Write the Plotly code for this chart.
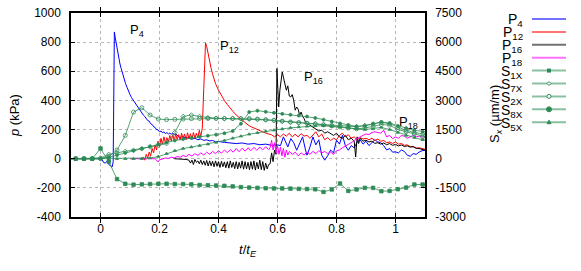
"""Pressure and strain histories, t/t_E on x."""
import plotly.graph_objects as go

FONT = "Liberation Sans, Arial, sans-serif"
GREEN = "#2e8b57"

# pressure gauges (kPa)
P4_T = [-0.1, 0.0, 0.006, 0.01, 0.016, 0.022, 0.028, 0.034, 0.04, 0.043, 0.045, 0.047, 0.05, 0.054,
        0.058, 0.062, 0.066, 0.07, 0.075, 0.08, 0.085, 0.09, 0.095, 0.1, 0.105, 0.11, 0.115, 0.12,
        0.125, 0.13, 0.135, 0.14, 0.145, 0.15, 0.155, 0.16, 0.165, 0.17, 0.175, 0.18, 0.185, 0.19,
        0.195, 0.2, 0.205, 0.21, 0.215, 0.22, 0.225, 0.23, 0.235, 0.24, 0.245, 0.25, 0.255, 0.26,
        0.265, 0.27, 0.28, 0.29, 0.3, 0.31, 0.32, 0.33, 0.34, 0.35, 0.36, 0.37, 0.38, 0.39, 0.4,
        0.42, 0.44, 0.46, 0.48, 0.5, 0.52, 0.54, 0.56, 0.58, 0.6, 0.61, 0.62, 0.63, 0.635, 0.645,
        0.655, 0.665, 0.675, 0.685, 0.695, 0.7, 0.71, 0.72, 0.73, 0.74, 0.75, 0.76, 0.77, 0.78,
        0.79, 0.8, 0.81, 0.82, 0.83, 0.84, 0.85, 0.86, 0.87, 0.88, 0.89, 0.9, 0.91, 0.92, 0.93,
        0.94, 0.95, 0.96, 0.97, 0.98, 0.99, 1.0, 1.01, 1.02, 1.03, 1.04, 1.05, 1.06, 1.07, 1.08,
        1.09, 1.1]
P4_P = [0, 0, -8, -25, -30, -18, -40, -48, -55, -20, 450, 870, 830, 780,
        735, 700, 650, 620, 580, 545, 515, 490, 460, 440, 420, 405, 385, 370,
        355, 345, 330, 318, 300, 290, 278, 262, 258, 240, 235, 220, 215, 200,
        198, 185, 190, 178, 184, 172, 180, 170, 176, 168, 175, 165, 172, 160,
        150, 146, 152, 140, 145, 135, 140, 130, 136, 126, 130, 122, 125, 116, 118,
        112, 110, 104, 108, 100, 104, 96, 100, 92, 95, 90, 150, 110, 81, 138,
        110, 58, 104, 150, 60, 24, 80, 150, 95, 130, 24, -10, 20, 60,
        40, 127, 100, 161, 90, 58, 90, 75, 115, 130, 100, 120, 90, 110, 130,
        115, 110, 90, 60, 70, 45, 47, 40, 60, 50, 24, 17, 35, 30, 45,
        55, 58]

P12_T = [0.14, 0.145, 0.15, 0.155, 0.16, 0.165, 0.17, 0.175, 0.18, 0.185, 0.19, 0.195, 0.2, 0.205,
         0.21, 0.215, 0.22, 0.225, 0.23, 0.235, 0.24, 0.245, 0.25, 0.255, 0.26, 0.265, 0.27, 0.275,
         0.28, 0.285, 0.29, 0.295, 0.3, 0.305, 0.31, 0.315, 0.32, 0.325, 0.33, 0.335, 0.34, 0.345,
         0.35, 0.356, 0.36, 0.365, 0.37, 0.375, 0.38, 0.39, 0.4, 0.41, 0.42, 0.43, 0.44, 0.45, 0.46,
         0.47, 0.48, 0.49, 0.5, 0.51, 0.52, 0.53, 0.54, 0.55, 0.56, 0.57, 0.58, 0.59, 0.6, 0.61,
         0.62, 0.63, 0.64, 0.65, 0.66, 0.67, 0.68, 0.69, 0.7, 0.71, 0.72, 0.73, 0.74, 0.75, 0.76,
         0.77, 0.78, 0.79, 0.8, 0.81, 0.82, 0.83, 0.84, 0.85, 0.86, 0.87, 0.88, 0.89, 0.9, 0.91,
         0.92, 0.93, 0.94, 0.95, 0.96, 0.97, 0.98, 0.99, 1.0, 1.01, 1.02, 1.03, 1.04, 1.05, 1.06,
         1.07, 1.08, 1.09, 1.1]
P12_P = [0, 10, -10, 30, 5, 45, 20, 70, 40, 95, 60, 120, 80, 140,
         100, 150, 110, 145, 115, 160, 120, 165, 125, 170, 130, 165, 128, 175,
         135, 170, 130, 178, 138, 172, 135, 180, 140, 175, 145, 195, 150, 210,
         480, 795, 770, 710, 660, 620, 580, 515, 470, 430, 400, 372, 345, 322, 300,
         282, 262, 246, 232, 220, 210, 200, 192, 184, 176, 170, 164, 150, 165, 150,
         170, 155, 175, 150, 168, 150, 172, 155, 160, 140, 165, 185, 150, 170, 130,
         145, 125, 140, 130, 160, 175, 150, 165, 140, 150, 130, 145, 135, 140, 130,
         140, 125, 135, 120, 125, 110, 115, 105, 115, 100, 104, 92, 95, 82, 85,
         72, 75, 68, 65]

P16_T = [0.25, 0.28, 0.29, 0.3, 0.305, 0.31, 0.315, 0.32, 0.325, 0.33, 0.335, 0.34, 0.345, 0.35,
         0.355, 0.36, 0.365, 0.37, 0.375, 0.38, 0.385, 0.39, 0.395, 0.4, 0.405, 0.41, 0.415, 0.42,
         0.425, 0.43, 0.435, 0.44, 0.445, 0.45, 0.455, 0.46, 0.465, 0.47, 0.475, 0.48, 0.485, 0.49,
         0.495, 0.5, 0.505, 0.51, 0.515, 0.52, 0.525, 0.53, 0.535, 0.54, 0.545, 0.55, 0.555, 0.56,
         0.565, 0.57, 0.575, 0.58, 0.585, 0.59, 0.595, 0.598, 0.601, 0.604, 0.608, 0.612, 0.616,
         0.62, 0.625, 0.63, 0.635, 0.64, 0.645, 0.65, 0.655, 0.66, 0.665, 0.67, 0.675, 0.68, 0.685,
         0.69, 0.695, 0.7, 0.71, 0.72, 0.73, 0.74, 0.75, 0.76, 0.77, 0.78, 0.79, 0.8, 0.81, 0.82,
         0.83, 0.84, 0.85, 0.86, 0.865, 0.87, 0.875, 0.88, 0.89, 0.9, 0.91, 0.92, 0.93, 0.94, 0.95,
         0.96, 0.97, 0.98, 0.99, 1.0, 1.01, 1.02, 1.03, 1.04, 1.05, 1.06, 1.07, 1.08, 1.09, 1.1]
P16_P = [0, 0, -5, -10, -30, -10, -40, -5, -25, -15, -35, -10, -40, -15,
         -45, -12, -50, -15, -48, -18, -55, -15, -52, -20, -60, -18, -55, -22,
         -62, -20, -65, -15, -60, -25, -68, -20, -70, -25, -65, -15, -72, -20,
         -70, -25, -75, -20, -72, -15, -78, -25, -70, -10, -75, -20, -80, -30,
         -70, -40, -35, 40, -20, 60, 30, 619, 400, 355, 470, 560, 595,
         560, 516, 470, 500, 430, 424, 440, 400, 333, 355, 340, 298, 320, 290,
         276, 250, 240, 230, 215, 200, 190, 196, 175, 185, 170, 160, 175, 150, 140,
         160, 130, 140, 120, 12, 150, 104, 140, 120, 127, 115, 120, 105, 110, 100,
         108, 96, 104, 92, 98, 88, 94, 84, 88, 80, 82, 72, 70, 62, 58]

P18_T = [0.1, 0.12, 0.14, 0.16, 0.18, 0.185, 0.19, 0.195, 0.2, 0.21, 0.22, 0.23, 0.24, 0.25,
         0.26, 0.27, 0.28, 0.29, 0.3, 0.31, 0.32, 0.33, 0.34, 0.35, 0.36, 0.37, 0.38, 0.39, 0.4,
         0.41, 0.42, 0.43, 0.44, 0.45, 0.46, 0.47, 0.48, 0.49, 0.5, 0.51, 0.52, 0.53, 0.54, 0.55,
         0.56, 0.57, 0.575, 0.58, 0.585, 0.59, 0.595, 0.6, 0.605, 0.61, 0.615, 0.62, 0.625, 0.63,
         0.635, 0.64, 0.65, 0.66, 0.67, 0.68, 0.69, 0.7, 0.71, 0.72, 0.73, 0.74, 0.75, 0.76, 0.77,
         0.78, 0.79, 0.8, 0.81, 0.82, 0.83, 0.84, 0.85, 0.86, 0.87, 0.88, 0.89, 0.9, 0.91, 0.92,
         0.93, 0.94, 0.95, 0.96, 0.97, 0.98, 0.99, 1.0, 1.01, 1.02, 1.03, 1.04, 1.05, 1.06, 1.07,
         1.08, 1.09, 1.1]
P18_P = [0, 0, -5, -5, -3, 0, -10, -22, -8, 0, 5, 2, 10, 6,
         15, 10, 22, 14, 30, 18, 35, 22, 40, 25, 45, 30, 50, 35, 55,
         38, 60, 42, 62, 45, 70, 48, 72, 52, 75, 55, 78, 58, 80, 60,
         82, 62, 75, 127, 60, 110, 40, 90, 30, 80, 20, 70, 10, 60,
         25, 50, 30, 45, 20, 40, 25, 45, 30, 50, 35, 55, 40, 50, 35,
         45, 30, 55, 60, 75, 85, 100, 110, 125, 140, 150, 160, 170, 165, 180,
         185, 178, 175, 196, 150, 160, 138, 150, 140, 160, 155, 140, 150, 160, 150,
         155, 148, 150]

# strain gauges (um/m), sampled at the marker times
S_T = [-0.112, -0.084, -0.056, -0.028, 0.0, 0.028, 0.056, 0.084, 0.112, 0.14, 0.168, 0.196,
       0.224, 0.252, 0.28, 0.308, 0.336, 0.364, 0.392, 0.42, 0.448, 0.476, 0.504, 0.532, 0.56,
       0.588, 0.616, 0.644, 0.672, 0.7, 0.728, 0.756, 0.784, 0.812, 0.84, 0.868, 0.896, 0.924,
       0.952, 0.98, 1.008, 1.036, 1.064, 1.092, 1.12]
S1X = [0, 0, 0, 0, 525, -150, -1050, -1290, -1335, -1320, -1305, -1290, -1290, -1305, -1305,
       -1320, -1350, -1365, -1380, -1395, -1425, -1462, -1485, -1500, -1522, -1530, -1530, -1538,
       -1552, -1560, -1575, -1710, -1582, -1275, -1658, -1582, -1500, -1500, -1672, -1658, -1568,
       -1485, -1328, -1328, -1328]
S7X = [0, 0, 0, 0, 38, 225, 300, 375, 435, 510, 600, 690, 780, 1350, 2175, 2250, 2175, 2115,
       2085, 2070, 2062, 2055, 2040, 2025, 1995, 1965, 1920, 1875, 1845, 1815, 1785, 1755, 1725,
       1695, 1665, 1650, 1710, 1785, 1875, 1800, 1612, 1462, 1350, 1275, 1200]
S2X = [0, 0, 0, 0, 0, 112, 450, 1200, 2400, 2625, 2250, 2040, 2010, 2025, 2040, 2062, 2070,
       2070, 2070, 2070, 2070, 2070, 2062, 2040, 2010, 1980, 1935, 1890, 1860, 1830, 1800, 1740,
       1688, 1635, 1575, 1538, 1575, 1650, 1762, 1725, 1500, 1388, 1275, 1125, 1050]
S8X = [0, 0, 0, 0, 0, 75, 188, 300, 412, 525, 638, 750, 840, 938, 1012, 1065, 1125, 1185, 1238,
       1312, 1425, 1800, 2400, 2475, 2415, 2362, 2310, 2265, 2220, 2175, 2100, 2010, 1912, 1815,
       1740, 1665, 1688, 1800, 1890, 1838, 1688, 1575, 1462, 1388, 1350]
S5X = [0, 0, 0, 0, 0, 0, 0, 0, 0, 0, 38, 112, 262, 412, 525, 600, 675, 750, 840, 938, 1050,
       1162, 1260, 1335, 1410, 1470, 1530, 1590, 1635, 1665, 1688, 1695, 1665, 1635, 1590, 1538,
       1500, 1538, 1612, 1500, 1350, 1200, 1088, 975, 938]

P_SERIES = [
    ("P<sub>4</sub>", P4_T, P4_P, "#0000ff"),
    ("P<sub>12</sub>", P12_T, P12_P, "#ff0000"),
    ("P<sub>16</sub>", P16_T, P16_P, "#000000"),
    ("P<sub>18</sub>", P18_T, P18_P, "#ff00ff"),
]
S_SERIES = [
    ("S<sub>1X</sub>", S1X, "square", 3.5),
    ("S<sub>7X</sub>", S7X, "diamond-open", 3.5),
    ("S<sub>2X</sub>", S2X, "circle-open", 4),
    ("S<sub>8X</sub>", S8X, "circle", 3),
    ("S<sub>5X</sub>", S5X, "triangle-up", 3),
]

P_TICKS = [-400, -200, 0, 200, 400, 600, 800, 1000]
S_TICKS = [-3000, -1500, 0, 1500, 3000, 4500, 6000, 7500]
T_TICKS = [0, 0.2, 0.4, 0.6, 0.8, 1]
T_TEXT = ["0", "0.2", "0.4", "0.6", "0.8", "1"]

fig = go.Figure()
for name, t, p, color in P_SERIES:
    fig.add_trace(go.Scatter(x=t, y=p, mode="lines", name=name,
                             line=dict(color=color, width=1)))
for name, s, symbol, size in S_SERIES:
    fig.add_trace(go.Scatter(x=S_T, y=s, mode="lines+markers", name=name, yaxis="y2",
                             line=dict(color=GREEN, width=0.8),
                             marker=dict(symbol=symbol, size=size, color=GREEN,
                                         line=dict(color=GREEN, width=0.8))))

# gauge labels next to the peaks
for text, x, y in [("P<sub>4</sub>", 0.092, 880), ("P<sub>12</sub>", 0.398, 770),
                   ("P<sub>16</sub>", 0.683, 560), ("P<sub>18</sub>", 1.005, 250)]:
    fig.add_annotation(x=x, y=y, text=text, showarrow=False, xanchor="left",
                       font=dict(size=13))

# gnuplot-style key: right-aligned text, sample line to the right
# (positions are measured in screen pixels; the plot area spans x 71..425, y 13..217)
PX, PY = 1 / 354, 1 / 204
key_rows = [(n, c, None) for n, _, _, c in P_SERIES] + [(n, GREEN, sym) for n, _, sym, _ in S_SERIES]
for i, (name, color, sym) in enumerate(key_rows):
    yp = (217 - (19 + 12.9 * i)) * PY
    fig.add_annotation(x=(525 - 71) * PX, y=yp - 1.5 * PY, xref="paper", yref="paper",
                       text=name, showarrow=False, xanchor="right", yanchor="middle",
                       font=dict(size=14))
    fig.add_shape(type="line", xref="paper", yref="paper", x0=(532 - 71) * PX,
                  x1=(566 - 71) * PX, y0=yp, y1=yp, line=dict(color=color, width=2),
                  opacity=0.55)
    cx = (549 - 71) * PX
    if sym == "square":
        fig.add_shape(type="rect", xref="paper", yref="paper", x0=cx - 2 * PX,
                      x1=cx + 2 * PX, y0=yp - 2 * PY, y1=yp + 2 * PY,
                      fillcolor=color, line=dict(width=0))
    elif sym in ("circle", "circle-open"):
        r = 2.5 if sym == "circle" else 2
        fig.add_shape(type="circle", xref="paper", yref="paper", x0=cx - r * PX,
                      x1=cx + r * PX, y0=yp - r * PY, y1=yp + r * PY,
                      fillcolor=color if sym == "circle" else "white",
                      line=dict(color=color, width=1))
    elif sym == "diamond-open":
        fig.add_shape(type="path", xref="paper", yref="paper",
                      path=f"M {cx - 2 * PX},{yp} L {cx},{yp + 2 * PY} L {cx + 2 * PX},{yp} "
                           f"L {cx},{yp - 2 * PY} Z",
                      fillcolor="white", line=dict(color=color, width=1))
    elif sym == "triangle-up":
        fig.add_shape(type="path", xref="paper", yref="paper",
                      path=f"M {cx - 2 * PX},{yp - 1.5 * PY} L {cx + 2 * PX},{yp - 1.5 * PY} "
                           f"L {cx},{yp + 2 * PY} Z",
                      fillcolor=color, line=dict(color=color, width=1))

# axis titles
fig.add_annotation(x=(14 - 71) * PX, y=(217 - 116) * PY, xref="paper", yref="paper",
                   text="<i>p</i> (kPa)", textangle=-90, showarrow=False, font=dict(size=13),
                   xanchor="center", yanchor="middle")
fig.add_annotation(x=(248 - 71) * PX, y=(217 - 250) * PY, xref="paper", yref="paper",
                   text="<i>t</i>/<i>t</i><sub><i>E</i></sub>", showarrow=False,
                   font=dict(size=13), xanchor="center", yanchor="middle")
fig.add_annotation(x=(495 - 71) * PX, y=(217 - 114) * PY, xref="paper", yref="paper",
                   text="S<sub><i>x</i></sub> (µm/m)", textangle=-90, showarrow=False,
                   font=dict(size=13), xanchor="center", yanchor="middle")

grid = dict(showgrid=True, gridcolor="#b8b8b8", griddash="dot", gridwidth=1, zeroline=False)
fig.update_layout(
    width=581,
    height=271,
    margin=dict(l=71, r=156, t=13, b=54, autoexpand=False),
    paper_bgcolor="white",
    plot_bgcolor="white",
    font=dict(family=FONT, size=12, color="black"),
    showlegend=False,
    xaxis=dict(range=[-0.1, 1.1], tickvals=T_TICKS, ticktext=T_TEXT,
               showline=True, linecolor="black", linewidth=1.5, mirror="allticks",
               ticks="inside", ticklen=4, tickcolor="black", ticklabelstandoff=0, **grid),
    yaxis=dict(range=[-400, 1000], tickvals=P_TICKS, ticktext=[str(v) for v in P_TICKS],
               showline=True, linecolor="black", linewidth=1.5, mirror=True,
               ticks="inside", ticklen=4, tickcolor="black", ticklabelstandoff=6,
               ticklabeloverflow="allow", **grid),
    yaxis2=dict(range=[-3000, 7500], tickvals=S_TICKS, ticktext=[str(v) for v in S_TICKS],
                overlaying="y", side="right", showgrid=False, zeroline=False,
                showline=True, linecolor="black", linewidth=1.5,
                ticks="inside", ticklen=4, tickcolor="black", ticklabelstandoff=6,
                ticklabeloverflow="allow"),
)

# drop the default page margin so the figure sits at the window's top-left corner
fig.write_html("out.html", config={"displayModeBar": False},
               post_script="document.body.style.margin = '0';")
